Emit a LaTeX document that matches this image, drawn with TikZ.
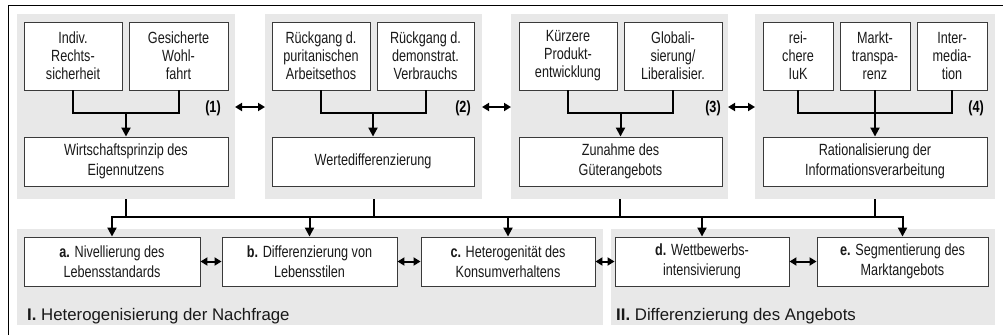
\documentclass[tikz,border=0pt]{standalone}
\usepackage{fontspec}
\setmainfont{Liberation Sans}
\newfontfamily\narrowfont{Liberation Sans}[FakeStretch=0.78]
\usetikzlibrary{arrows.meta}
\definecolor{panelgray}{HTML}{E8E8E8}
\definecolor{boxborder}{HTML}{3A3A3A}
\begin{document}
\begin{tikzpicture}[x=1pt,y=-1pt,
  panel/.style={fill=panelgray, draw=none, inner sep=0pt, outer sep=0pt},
  tbox/.style={draw=boxborder, line width=0.9pt, fill=white, inner sep=1pt, align=center,
    font=\narrowfont\fontsize{16.2}{18}\selectfont, text=black!90},
  wbox/.style={tbox, font=\narrowfont\fontsize{16.2}{19.5}\selectfont},
  conn/.style={line width=2pt, black},
  arr/.style={conn, -{Triangle[width=9pt,length=9pt]}},
  darr/.style={line width=2pt, {Triangle[width=8pt,length=7pt]}-{Triangle[width=8pt,length=7pt]}},
  numlabel/.style={font=\narrowfont\bfseries\fontsize{16.2}{18}\selectfont, inner sep=0pt},
  ptitle/.style={font=\fontsize{16.8}{20}\selectfont, anchor=base west, inner sep=0pt, text=black!90}
]
\useasboundingbox (0,0) rectangle (1003,335);
% frame (top and left only visible)
\draw[line width=1pt] (8,335) -- (8,5) -- (1003,5);

% panels
\node[panel, minimum width=218pt, minimum height=185pt] (P1) at (126,106.5) {};
\node[panel, minimum width=217pt, minimum height=185pt] (P2) at (373.5,106.5) {};
\node[panel, minimum width=217pt, minimum height=185pt] (P3) at (619.5,106.5) {};
\node[panel, minimum width=240pt, minimum height=185pt] (P4) at (875,106.5) {};
\node[panel, minimum width=586pt, minimum height=96pt] (PI) at (310,277) {};
\node[panel, minimum width=384pt, minimum height=96pt] (PII) at (803,277) {};

% top boxes
\node[tbox, minimum width=98pt, minimum height=68pt] (A1) at (73,56) {Indiv.\\Rechts-\\sicherheit};
\node[tbox, minimum width=99pt, minimum height=68pt] (A2) at (178.5,56) {Gesicherte\\Wohl-\\fahrt};
\node[wbox, minimum width=204pt, minimum height=49pt] (W1) at (126,161.5) {Wirtschaftsprinzip des\\Eigennutzens};

\node[tbox, minimum width=98pt, minimum height=68pt] (B1) at (321,56) {Rückgang d.\\puritanischen\\Arbeitsethos};
\node[tbox, minimum width=97pt, minimum height=68pt] (B2) at (425.5,56) {Rückgang d.\\demonstrat.\\Verbrauchs};
\node[wbox, minimum width=202pt, minimum height=49pt] (W2) at (373,161.5) {Wertedifferenzierung};

\node[tbox, minimum width=98pt, minimum height=68pt] (C1) at (568,56) {Kürzere\\Produkt-\\entwicklung};
\node[tbox, minimum width=98pt, minimum height=68pt] (C2) at (673,56) {Globali-\\sierung/\\Liberalisier.};
\node[wbox, minimum width=203pt, minimum height=49pt] (W3) at (620.5,161.5) {Zunahme des\\Güterangebots};

\node[tbox, minimum width=70pt, minimum height=68pt] (D1) at (798,56) {rei-\\chere\\IuK};
\node[tbox, minimum width=70pt, minimum height=68pt] (D2) at (875,56) {Markt-\\transpa-\\renz};
\node[tbox, minimum width=70pt, minimum height=68pt] (D3) at (952,56) {Inter-\\media-\\tion};
\node[wbox, minimum width=224pt, minimum height=49pt] (W4) at (875,161.5) {Rationalisierung der\\Informationsverarbeitung};

% number labels
\node[numlabel] (n1) at (213,108) {(1)};
\node[numlabel] (n2) at (463,108) {(2)};
\node[numlabel] (n3) at (713,108) {(3)};
\node[numlabel] (n4) at (976,108) {(4)};

% bottom boxes
\node[wbox, minimum width=176pt, minimum height=49pt] (a) at (112,261.5) {{\bfseries a.} Nivellierung des\\Lebensstandards};
\node[wbox, minimum width=175pt, minimum height=49pt] (b) at (309.5,261.5) {{\bfseries b.} Differenzierung von\\Lebensstilen};
\node[wbox, minimum width=174pt, minimum height=49pt] (c) at (508,261.5) {{\bfseries c.} Heterogenität des\\Konsumverhaltens};
\node[wbox, minimum width=174pt, minimum height=49pt] (d) at (702,261.5) {{\bfseries d.} Wettbewerbs-\\intensivierung};
\node[wbox, minimum width=171pt, minimum height=49pt] (e) at (902.5,261.5) {{\bfseries e.} Segmentierung des\\Marktangebots};

% panel titles
\node[ptitle] (tI) at (27,320) {{\bfseries I.} Heterogenisierung der Nachfrage};
\node[ptitle] (tII) at (616,320) {{\bfseries II.} Differenzierung des Angebots};

% connectors inside top panels
\coordinate (j1) at (126,113);
\coordinate (j2) at (373,113);
\coordinate (j3) at (620.5,113);
\coordinate (j4) at (875,113);
\draw[conn] (A1.south) |- (j1) -| (A2.south);
\draw[arr] (j1) -- (W1.north);
\draw[conn] (B1.south) |- (j2) -| (B2.south);
\draw[arr] (j2) -- (W2.north);
\draw[conn] (C1.south) |- (j3) -| (C2.south);
\draw[arr] (j3) -- (W3.north);
\draw[conn] (D1.south) |- (j4) -| (D3.south);
\draw[arr] (D2.south) -- (W4.north);

% arrows between top panels
\coordinate (ly) at (0,107);
\draw[darr] (P1.east |- ly) -- (P2.west |- ly);
\draw[darr] (P2.east |- ly) -- (P3.west |- ly);
\draw[darr] (P3.east |- ly) -- (P4.west |- ly);

% main bus
\coordinate (busy) at (0,217);
\draw[conn] (P1.south) -- (P1.south |- busy);
\draw[conn] (P2.south) -- (P2.south |- busy);
\draw[conn] (P3.south) -- (P3.south |- busy);
\draw[conn] (P4.south) -- (P4.south |- busy);
\draw[conn, line cap=rect] (a.north |- busy) -- (e.north |- busy);
\draw[arr] (a.north |- busy) -- (a.north);
\draw[arr] (b.north |- busy) -- (b.north);
\draw[arr] (c.north |- busy) -- (c.north);
\draw[arr] (d.north |- busy) -- (d.north);
\draw[arr] (e.north |- busy) -- (e.north);

% arrows between bottom boxes
\draw[darr] (a.east) -- (b.west);
\draw[darr] (b.east) -- (c.west);
\draw[darr] (c.east) -- (d.west);
\draw[darr] (d.east) -- (e.west);
\end{tikzpicture}
\end{document}
